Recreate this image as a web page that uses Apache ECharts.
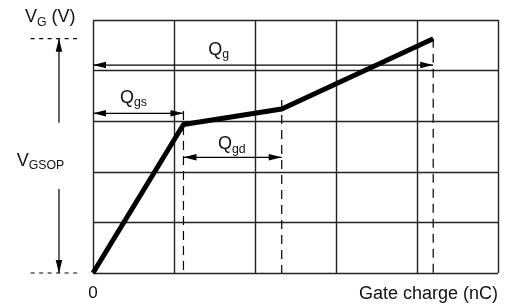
<!DOCTYPE html>
<html><head><meta charset="utf-8">
<script src="https://cdn.jsdelivr.net/npm/echarts@6/dist/echarts.min.js"></script>
<style>html,body{margin:0;padding:0;background:#fff}#c{width:508px;height:308px}</style>
</head><body><div id="c"></div>
<script>
// Gate-charge curve (axis units: 5 grid divisions each way)
const charge = [0, 1.117, 2.33, 4.2];
const gateVoltage = [0, 2.935, 3.24, 4.63];

// Dashed charge markers: x position and top of the dashed line
const markerCharge = [1.117, 2.33, 4.2];
const markerTop = [3.2, 3.42, 4.63];

// Dimension arrows (Qg, Qgs, Qgd, V_GSOP up, V_GSOP down)
const arrowX1 = [0, 0, 1.117, -0.42, -0.42];
const arrowY1 = [4.11, 3.156, 2.287, 2.97, 1.66];
const arrowX2 = [4.2, 1.117, 2.33, -0.42, -0.42];
const arrowY2 = [4.11, 3.156, 2.287, 4.63, 0];
const arrowBothEnds = [1, 1, 1, 0, 0];

// Dotted level lines on the left (V_GSOP level and zero)
const levelY = [4.63, 0];
const levelX1 = [-0.77, -0.77];
const levelX2 = [-0.14, -0.14];

// Labels: main letter, subscript, tail; anchor = left / baseline
const labelMain = ['V', 'Q', 'Q', 'Q', 'V'];
const labelSub = ['G', 'g', 'gs', 'gd', 'GSOP'];
const labelTail = [' (V)', '', '', '', ''];
const labelX = [-0.84, 1.424, 0.333, 1.543, -0.942];
const labelY = [4.96, 4.31, 3.36, 2.45, 2.115];

const xTickLabels = ['0'];
const xAxisTitle = 'Gate charge (nC)';
const xAxisTitlePos = [5, -0.514];

const FONT = '"Liberation Sans", Arial, Helvetica, sans-serif';
const MAIN = 18, SUB = 12.3, SUBDROP = 3.5;
const INK = '#111';
const mctx = document.createElement('canvas').getContext('2d');
function measure(t, size) { mctx.font = size + 'px ' + FONT; return mctx.measureText(t).width; }
function baseOff(size) { mctx.font = size + 'px ' + FONT; mctx.textBaseline = 'middle'; return mctx.measureText('H').actualBoundingBoxDescent; }
function txt(t, x, baseline, size, align) {
  return { type: 'text', silent: true, style: { text: t, x: x, y: baseline - baseOff(size), font: size + 'px ' + FONT, fill: INK, align: align || 'left', verticalAlign: 'middle' } };
}

const chart = echarts.init(document.getElementById('c'), null, { renderer: 'canvas' });
const gridLine = { show: true, lineStyle: { color: '#222', width: 1.4 } };

chart.setOption({
  animation: false,
  backgroundColor: '#fff',
  grid: { left: 93, right: 10, top: 20, bottom: 35 },
  xAxis: {
    type: 'value', min: 0, max: 5, interval: 1,
    axisLine: { show: false }, axisTick: { show: false },
    splitLine: gridLine,
    axisLabel: { margin: 12, fontSize: 17, fontFamily: FONT, color: INK,
      formatter: v => (v === 0 ? xTickLabels[0] : '') }
  },
  yAxis: {
    type: 'value', min: 0, max: 5, interval: 1,
    axisLine: { show: false }, axisTick: { show: false },
    splitLine: gridLine, axisLabel: { show: false }
  },
  series: [
    { // dashed charge markers
      type: 'custom', z: 2, silent: true,
      data: markerCharge.map((x, i) => [x, markerTop[i]]),
      renderItem: (p, api) => {
        const a = api.coord([api.value(0), api.value(1)]);
        const b = api.coord([api.value(0), 0]);
        return { type: 'line', shape: { x1: a[0], y1: a[1], x2: b[0], y2: b[1] },
          style: { stroke: '#000', lineWidth: 1.2, lineDash: [9, 6] } };
      }
    },
    { // dotted level lines
      type: 'custom', z: 2, silent: true,
      data: levelY.map((y, i) => [levelX1[i], y, levelX2[i], y]),
      renderItem: (p, api) => {
        const a = api.coord([api.value(0), api.value(1)]);
        const b = api.coord([api.value(2), api.value(3)]);
        return { type: 'line', shape: { x1: a[0], y1: a[1], x2: b[0], y2: b[1] },
          style: { stroke: '#000', lineWidth: 1.2, lineDash: [4, 4.5] } };
      }
    },
    { // arrows
      type: 'custom', z: 4, silent: true,
      data: arrowX1.map((x, i) => [x, arrowY1[i], arrowX2[i], arrowY2[i], arrowBothEnds[i]]),
      renderItem: (p, api) => {
        const p1 = api.coord([api.value(0), api.value(1)]);
        const p2 = api.coord([api.value(2), api.value(3)]);
        const L = 13, W = 3.3;
        const head = (tip, from) => {
          const dx = tip[0] - from[0], dy = tip[1] - from[1];
          const len = Math.hypot(dx, dy), ux = dx / len, uy = dy / len;
          const bx = tip[0] - ux * L, by = tip[1] - uy * L;
          return { type: 'polygon', shape: { points: [[tip[0], tip[1]], [bx - uy * W, by + ux * W], [bx + uy * W, by - ux * W]] },
            style: { fill: '#000' } };
        };
        const ch = [{ type: 'line', shape: { x1: p1[0], y1: p1[1], x2: p2[0], y2: p2[1] },
          style: { stroke: '#000', lineWidth: 1.2 } }, head(p2, p1)];
        if (api.value(4)) ch.push(head(p1, p2));
        return { type: 'group', children: ch };
      }
    },
    { // curve
      type: 'line', z: 5, silent: true, showSymbol: false,
      data: charge.map((c, i) => [c, gateVoltage[i]]),
      lineStyle: { color: '#000', width: 5, join: 'round', cap: 'butt' }
    },
    { // labels with subscripts
      type: 'custom', z: 6, silent: true,
      data: labelX.map((x, i) => [x, labelY[i], i]),
      renderItem: (p, api) => {
        const i = api.value(2);
        const a = api.coord([api.value(0), api.value(1)]);
        const x1 = a[0] + measure(labelMain[i], MAIN);
        const ch = [txt(labelMain[i], a[0], a[1], MAIN), txt(labelSub[i], x1, a[1] + SUBDROP, SUB)];
        if (labelTail[i]) ch.push(txt(labelTail[i], x1 + measure(labelSub[i], SUB), a[1], MAIN));
        return { type: 'group', children: ch };
      }
    },
    { // x-axis title
      type: 'custom', z: 6, silent: true,
      data: [xAxisTitlePos],
      renderItem: (p, api) => {
        const a = api.coord([api.value(0), api.value(1)]);
        return txt(xAxisTitle, a[0], a[1], MAIN, 'right');
      }
    }
  ]
});
</script></body></html>
